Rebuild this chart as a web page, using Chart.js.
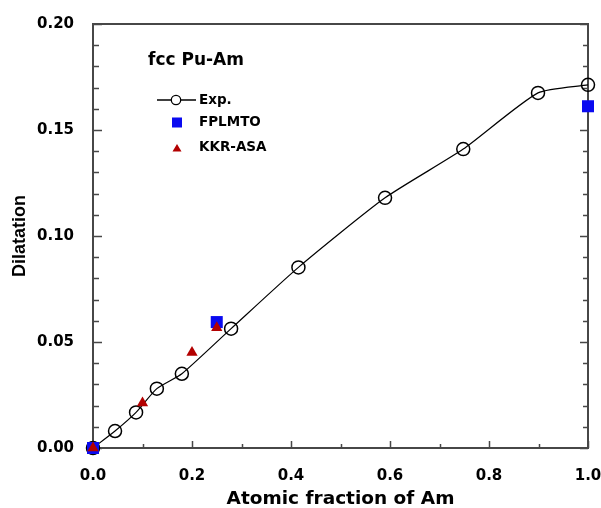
<!DOCTYPE html>
<html>
<head>
<meta charset="utf-8">
<script src="https://cdn.jsdelivr.net/npm/chart.js@4"></script>
<style>
  html, body { margin: 0; padding: 0; background: #ffffff; }
  #wrap { width: 601px; height: 508px; position: relative; }
</style>
</head>
<body>
<div id="wrap"><canvas id="c" width="601" height="508"></canvas></div>
<script>
// ---- data ----
const expX    = [0, 0.0445, 0.087, 0.129, 0.1795, 0.279, 0.415, 0.590, 0.748, 0.899, 1.0];
const expY    = [0, 0.0080, 0.0168, 0.0280, 0.0350, 0.0563, 0.0852, 0.1180, 0.1410, 0.1675, 0.1713];
const fpX     = [0, 0.25, 1.0];
const fpY     = [0, 0.0594, 0.1612];
const kkrX    = [0, 0.10, 0.20, 0.25];
const kkrY    = [0, 0.0212, 0.0450, 0.0567];
const xTicks  = [0, 0.2, 0.4, 0.6, 0.8, 1.0];
const yTicks  = [0, 0.05, 0.10, 0.15, 0.20];
const xMinor  = [0, 0.1, 0.2, 0.3, 0.4, 0.5, 0.6, 0.7, 0.8, 0.9, 1.0];
const yMinor  = [0,0.01,0.02,0.03,0.04,0.05,0.06,0.07,0.08,0.09,0.10,0.11,0.12,0.13,0.14,0.15,0.16,0.17,0.18,0.19,0.20];
const chartTitle = 'fcc Pu-Am';
const seriesNames = ['Exp.', 'FPLMTO', 'KKR-ASA'];
const xTitle = 'Atomic fraction of Am';
const yTitle = 'Dilatation';

const pts = (xs, ys) => xs.map((x, i) => ({ x: x, y: ys[i] }));

const FRAME = '#474747';
const BLUE = '#0a0af0';
const RED = '#b30000';
const TICKFONT = { family: 'DejaVu Sans', size: 15, weight: 'bold' };

const framePlugin = {
  id: 'framePlugin',
  beforeDatasetsDraw(chart) {
    const { ctx, chartArea: a, scales } = chart;
    const xs = scales.x, ys = scales.y;
    ctx.save();
    ctx.strokeStyle = FRAME;
    ctx.lineWidth = 2;
    ctx.strokeRect(a.left, a.top, a.right - a.left, a.bottom - a.top);
    ctx.lineWidth = 1.5;
    ctx.beginPath();
    xMinor.forEach((v, i) => {
      const px = Math.round(xs.getPixelForValue(v)) + 0.5;
      const len = (i % 2 === 0) ? 7 : 4;
      ctx.moveTo(px, a.bottom);
      ctx.lineTo(px, a.bottom - len);
    });
    yMinor.forEach((v, i) => {
      const py = Math.round(ys.getPixelForValue(v)) + 0.5;
      const major = (i % 5 === 0);
      ctx.moveTo(a.left, py);
      ctx.lineTo(a.left + (major ? 9 : 6), py);
      ctx.moveTo(a.right, py);
      ctx.lineTo(a.right - (major ? 8 : 5), py);
    });
    ctx.stroke();
    ctx.restore();
  },
  afterDraw(chart) {
    const { ctx } = chart;
    ctx.save();
    ctx.fillStyle = '#000';
    ctx.textBaseline = 'middle';
    ctx.textAlign = 'left';
    ctx.font = 'bold 17px "DejaVu Sans"';
    ctx.fillText(chartTitle, 148, 61);

    // Exp entry
    ctx.strokeStyle = '#000';
    ctx.lineWidth = 1.3;
    ctx.beginPath();
    ctx.moveTo(157, 100); ctx.lineTo(196, 100);
    ctx.stroke();
    ctx.beginPath();
    ctx.fillStyle = '#fff';
    ctx.arc(176, 100, 4.7, 0, Math.PI * 2);
    ctx.fill();
    ctx.stroke();
    // FPLMTO entry
    ctx.fillStyle = BLUE;
    ctx.fillRect(172, 117.5, 10, 10);
    // KKR-ASA entry
    ctx.fillStyle = RED;
    ctx.beginPath();
    ctx.moveTo(177, 144); ctx.lineTo(181.5, 151.5); ctx.lineTo(172.5, 151.5);
    ctx.closePath(); ctx.fill();

    ctx.fillStyle = '#000';
    ctx.font = 'bold 13.5px "DejaVu Sans"';
    ctx.fillText(seriesNames[0], 199, 100);
    ctx.fillText(seriesNames[1], 199, 122.5);
    ctx.fillText(seriesNames[2], 199, 147.5);
    ctx.restore();
  }
};

new Chart(document.getElementById('c'), {
  type: 'scatter',
  data: {
    datasets: [
      {
        label: seriesNames[2],
        data: pts(kkrX, kkrY),
        order: 1,
        pointStyle: 'triangle',
        pointRadius: 6.5,
        pointBackgroundColor: RED,
        pointBorderColor: RED,
        pointBorderWidth: 0,
        showLine: false,
        clip: false
      },
      {
        label: seriesNames[1],
        data: pts(fpX, fpY),
        order: 2,
        pointStyle: 'rect',
        pointRadius: 8.5,
        pointBackgroundColor: BLUE,
        pointBorderColor: BLUE,
        pointBorderWidth: 0,
        showLine: false,
        clip: false
      },
      {
        label: seriesNames[0],
        data: pts(expX, expY),
        order: 3,
        showLine: true,
        borderColor: '#000',
        borderWidth: 1.2,
        tension: 0.2,
        pointStyle: 'circle',
        pointRadius: 6.5,
        pointBackgroundColor: 'rgba(0,0,0,0)',
        pointBorderColor: '#000',
        pointBorderWidth: 1.5,
        clip: false
      }
    ]
  },
  options: {
    responsive: false,
    animation: false,
    devicePixelRatio: 1,
    layout: { autoPadding: false, padding: { left: 0, right: 1, top: 24, bottom: 0 } },
    plugins: {
      legend: { display: false },
      tooltip: { enabled: false },
      title: { display: false }
    },
    scales: {
      x: {
        type: 'linear',
        min: 0, max: 1,
        afterFit(s) { s.height = 60; s.paddingRight = 13; s.paddingLeft = 0; },
        afterBuildTicks(s) { s.ticks = xTicks.map(v => ({ value: v })); },
        grid: { display: false },
        border: { display: false },
        ticks: {
          padding: 11,
          color: '#000',
          font: TICKFONT,
          maxRotation: 0,
          autoSkip: false,
          callback: v => Number(v).toFixed(1)
        },
        title: {
          display: true,
          text: xTitle,
          color: '#000',
          font: { family: 'DejaVu Sans', size: 18.5, weight: 'bold', lineHeight: 1 },
          padding: { top: 0, bottom: 0 }
        }
      },
      y: {
        type: 'linear',
        min: 0, max: 0.2,
        afterFit(s) { s.width = 93; },
        afterBuildTicks(s) { s.ticks = yTicks.map(v => ({ value: v })); },
        grid: { display: false },
        border: { display: false },
        ticks: {
          padding: 11,
          color: '#000',
          font: TICKFONT,
          autoSkip: false,
          callback: v => Number(v).toFixed(2)
        },
        title: {
          display: true,
          text: yTitle,
          color: '#000',
          font: { family: 'Liberation Sans', size: 18, weight: 'bold', lineHeight: 1.2 },
          padding: { top: 9.5, bottom: 0 }
        }
      }
    }
  },
  plugins: [framePlugin]
});
</script>
</body>
</html>
